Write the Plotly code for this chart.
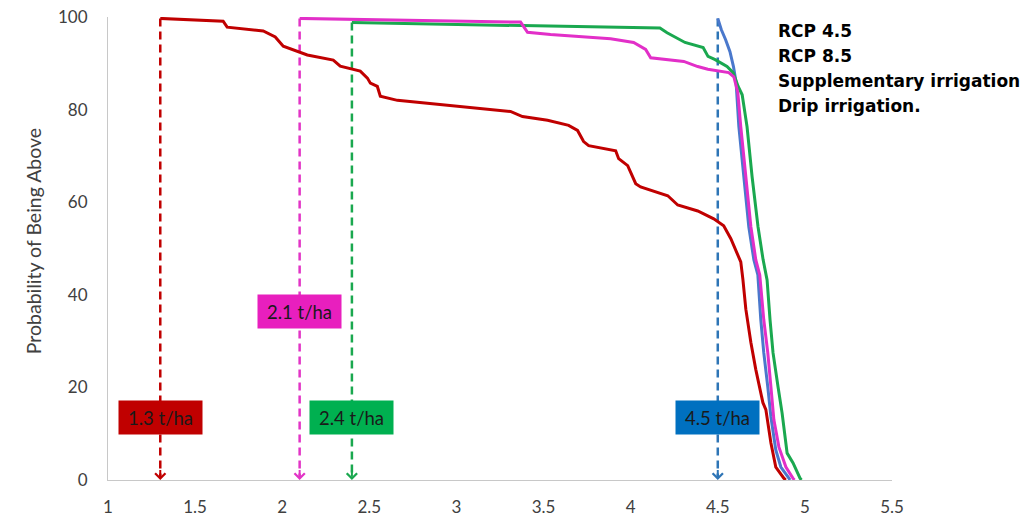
import plotly.graph_objects as go

# Exceedance curves: yield (t/ha) vs probability of being above (%)
yield_rcp85 = [1.3, 1.661, 1.684, 1.891, 1.960, 2.006, 2.144, 2.293, 2.333, 2.448, 2.489,
               2.506, 2.546, 2.563, 2.661, 3.138, 3.310, 3.379, 3.523, 3.644, 3.695, 3.730,
               3.759, 3.914, 3.931, 3.983, 4.029, 4.057, 4.213, 4.270, 4.385, 4.477, 4.534,
               4.575, 4.632, 4.644, 4.661, 4.690, 4.718, 4.759, 4.776, 4.805, 4.833, 4.879, 4.89]
prob_rcp85 = [99.7, 99.1, 97.8, 97.0, 95.7, 93.7, 91.8, 90.7, 89.4, 88.3, 86.8,
              85.7, 85.0, 82.9, 82.0, 80.3, 79.6, 78.5, 77.7, 76.6, 75.5, 73.1,
              72.2, 71.1, 69.4, 67.9, 64.0, 63.3, 61.4, 59.4, 58.1, 56.4, 54.9,
              52.1, 47.1, 43.4, 36.9, 29.7, 23.9, 16.7, 15.2, 8.0, 2.8, 0.4, 0.0]

yield_rcp45 = [2.1, 2.8, 3.368, 3.408, 3.540, 3.885, 4.017, 4.086, 4.115, 4.305, 4.385,
               4.443, 4.563, 4.592, 4.615, 4.632, 4.661, 4.690, 4.718, 4.741, 4.764,
               4.787, 4.805, 4.822, 4.851, 4.891, 4.931, 4.94]
prob_rcp45 = [99.7, 99.3, 98.9, 96.7, 96.2, 95.3, 94.5, 93.0, 91.2, 90.4, 89.3,
              88.7, 88.0, 87.1, 83.7, 76.3, 65.5, 54.7, 47.6, 44.3, 34.6,
              27.5, 20.1, 13.0, 7.1, 2.8, 0.4, 0.0]

yield_supp = [2.4, 3.4, 4.168, 4.209, 4.272, 4.312, 4.416, 4.444, 4.485, 4.553, 4.588,
              4.617, 4.640, 4.668, 4.697, 4.731, 4.760, 4.783, 4.800, 4.817, 4.846,
              4.869, 4.898, 4.932, 4.972, 4.98]
prob_supp = [98.8, 98.2, 97.6, 96.6, 95.4, 94.5, 93.4, 91.5, 90.8, 89.3, 88.0,
             85.0, 83.2, 76.3, 65.5, 54.7, 47.6, 43.2, 34.6, 27.5, 20.1,
             14.5, 5.8, 3.7, 0.4, 0.0]

yield_drip = [4.5, 4.52, 4.545, 4.57, 4.59, 4.605, 4.621, 4.649, 4.678, 4.707, 4.730,
              4.747, 4.764, 4.787, 4.805, 4.833, 4.862, 4.908, 4.915]
prob_drip = [99.7, 97.3, 95.1, 92.5, 89.3, 85.9, 76.3, 65.5, 54.7, 47.6, 44.3,
             34.6, 27.5, 20.1, 13.6, 6.5, 2.8, 0.4, 0.0]

# Minimum-yield markers (t/ha)
threshold_values = [1.3, 2.1, 2.4, 4.5]

legend_names = ["RCP 4.5", "RCP 8.5", "Supplementary irrigation", "Drip irrigation."]

x_ticks = [1, 1.5, 2, 2.5, 3, 3.5, 4, 4.5, 5, 5.5]
y_ticks = [0, 20, 40, 60, 80, 100]

# styling
curve_colors = {"RCP 4.5": "#E22FC8", "RCP 8.5": "#C00000",
                "Supplementary irrigation": "#1AA84F", "Drip irrigation.": "#4A78CC"}
marker_colors = ["#C00000", "#E234C6", "#1AA84F", "#2E75B6"]
box_colors = ["#C00000", "#E81FBE", "#00B050", "#0070C0"]
box_y = [13.6, 36.5, 13.6, 13.6]

fig = go.Figure()

curves = [
    ("Drip irrigation.", yield_drip, prob_drip),
    ("Supplementary irrigation", yield_supp, prob_supp),
    ("RCP 4.5", yield_rcp45, prob_rcp45),
    ("RCP 8.5", yield_rcp85, prob_rcp85),
]
curve_tops = {"RCP 8.5": prob_rcp85[0], "RCP 4.5": prob_rcp45[0],
              "Supplementary irrigation": prob_supp[0], "Drip irrigation.": prob_drip[0]}
marker_order = ["RCP 8.5", "RCP 4.5", "Supplementary irrigation", "Drip irrigation."]

# dashed drop lines at each minimum yield
for v, name, col in zip(threshold_values, marker_order, marker_colors):
    fig.add_trace(go.Scatter(
        x=[v, v], y=[curve_tops[name], 0.6], mode="lines",
        line=dict(color=col, width=2.5, dash="8px,5px"),
        showlegend=False, hoverinfo="skip"))

for name, xs, ys in curves:
    fig.add_trace(go.Scatter(
        x=xs, y=ys, mode="lines", name=name,
        line=dict(color=curve_colors[name], width=3),
        showlegend=False))

# arrow heads and value boxes
for v, col, bcol, by in zip(threshold_values, marker_colors, box_colors, box_y):
    fig.add_annotation(x=v, y=0, ax=v, ay=2.5, xref="x", yref="y", axref="x", ayref="y",
                       text="", showarrow=True, arrowhead=4, arrowsize=1.0,
                       arrowwidth=2, arrowcolor=col)
    fig.add_annotation(x=v, y=by, xref="x", yref="y", text=f"{v} t/ha",
                       showarrow=False, bgcolor=bcol, width=75, height=25, borderpad=4,
                       font=dict(family="Lato", size=18.5, color="#1a1a1a"))

# series names as plain text
for i, name in enumerate(legend_names):
    fig.add_annotation(x=0.852, y=0.969 - i * 0.054, xref="paper", yref="paper",
                       xanchor="left", yanchor="middle", text=f"<b>{name}</b>",
                       showarrow=False,
                       font=dict(family="DejaVu Sans", size=17, color="#000000"))

fig.add_annotation(x=-0.112, y=0.515, xref="paper", yref="paper", textangle=-90,
                   text="Probability of Being Above", showarrow=False,
                   font=dict(family="Lato", size=19.5, color="#404040"))

axis_font = dict(family="Lato", size=17, color="#404040")
fig.update_xaxes(range=[1, 5.5], tickvals=x_ticks, ticktext=[f"{t:g}" for t in x_ticks],
                 showgrid=False, zeroline=False, showline=True, linecolor="#C8C8C8",
                 linewidth=1, ticks="", tickfont=axis_font, ticklabelstandoff=12,
                 automargin=False)
fig.update_yaxes(range=[0, 100], tickvals=y_ticks, showgrid=False, zeroline=False,
                 showline=True, linecolor="#C8C8C8", linewidth=1, ticks="",
                 tickfont=axis_font, ticklabelstandoff=16, automargin=False)

fig.update_layout(width=1025, height=517, margin=dict(l=108, r=133, t=17, b=37),
                  plot_bgcolor="white", paper_bgcolor="white")

fig.write_html("out.html")
